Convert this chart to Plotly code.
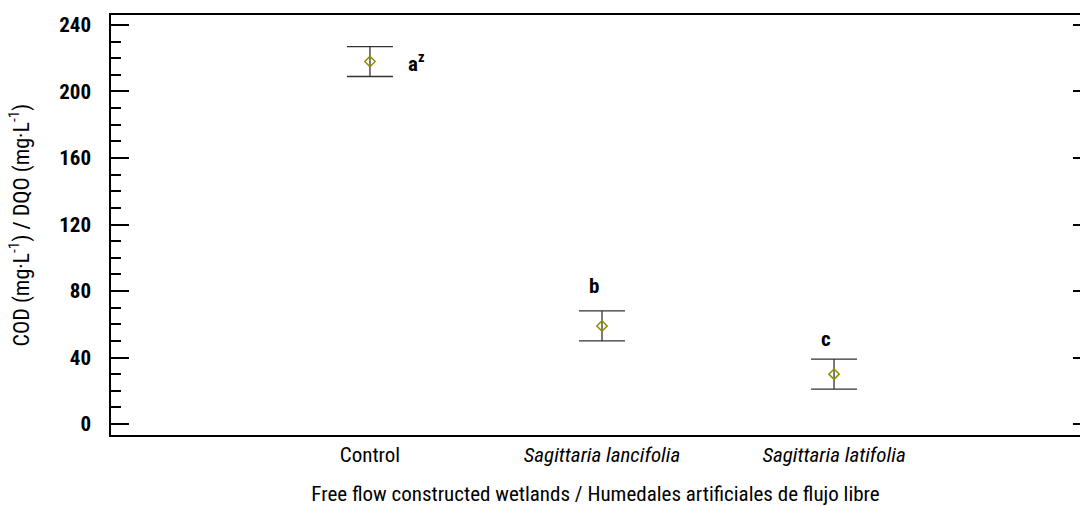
import plotly.graph_objects as go

categories = ["Control", "<i>Sagittaria lancifolia</i>", "<i>Sagittaria latifolia</i>"]
x_pos = [1, 2, 3]
cod_mean = [218, 59, 30]
cod_err = [9, 9, 9]
letters = ["<b>a<sup>z</sup></b>", "<b>b</b>", "<b>c</b>"]
letter_y = [218, 83, 51]
letter_dx = [36, -8, -8]
y_ticks = [0, 40, 80, 120, 160, 200, 240]

FONT = "Liberation Sans Narrow, Roboto Condensed, Arial Narrow, Liberation Sans, sans-serif"

fig = go.Figure()
fig.add_trace(go.Scatter(
    x=x_pos, y=cod_mean, mode="markers",
    marker=dict(symbol="diamond-open", size=8, color="#8f8f00", line=dict(width=1.5)),
    error_y=dict(type="data", array=cod_err, visible=True, color="#333333", thickness=1.3, width=23),
    showlegend=False,
))
# invisible trace for right axis
fig.add_trace(go.Scatter(x=[x_pos[0]], y=[cod_mean[0]], yaxis="y2", mode="markers",
                         marker=dict(opacity=0), showlegend=False, hoverinfo="skip"))

for xv, yv, txt, dx in zip(x_pos, letter_y, letters, letter_dx):
    fig.add_annotation(x=xv, y=yv, text=txt, showarrow=False, xshift=dx,
                       xanchor="left" if dx > 0 else "center",
                       font=dict(family=FONT, size=21, color="black"))

yrange = [-6.6, 246]
fig.update_layout(
    width=1080, height=506,
    margin=dict(l=111, r=0, t=15, b=71),
    plot_bgcolor="white", paper_bgcolor="white",
    font=dict(family=FONT, color="black"),
    xaxis=dict(
        range=[-0.116, 4.06], tickmode="array", tickvals=x_pos, ticktext=categories,
        showline=True, linecolor="black", linewidth=1.5, mirror=True, ticks="",
        showgrid=False, zeroline=False, tickfont=dict(size=21), automargin=False,
        title=dict(text="Free flow constructed wetlands / Humedales artificiales de flujo libre",
                   font=dict(size=21), standoff=20),
    ),
    yaxis=dict(
        range=yrange, tickvals=y_ticks, automargin=False,
        showline=True, linecolor="black", linewidth=1.5,
        ticks="inside", ticklen=18, tickwidth=1.5, tickcolor="black", ticklabelstandoff=14,
        minor=dict(ticks="inside", ticklen=10, dtick=10, tick0=0, tickwidth=1.5, tickcolor="black"),
        showgrid=False, zeroline=False, tickfont=dict(size=21, weight="bold"),
        title=dict(text="COD (mg·L<sup>-1</sup>) / DQO (mg·L<sup>-1</sup>)", font=dict(size=22), standoff=24),
    ),
    yaxis2=dict(
        range=yrange, overlaying="y", side="right", tickvals=y_ticks,
        showline=True, linecolor="black", linewidth=1.5, automargin=False,
        ticks="inside", ticklen=7, tickwidth=1.5, tickcolor="black",
        showticklabels=False, showgrid=False, zeroline=False,
    ),
)

fig.write_html("out.html", config={"displayModeBar": False},
               post_script="document.body.style.margin='0';document.body.style.overflow='hidden';")
